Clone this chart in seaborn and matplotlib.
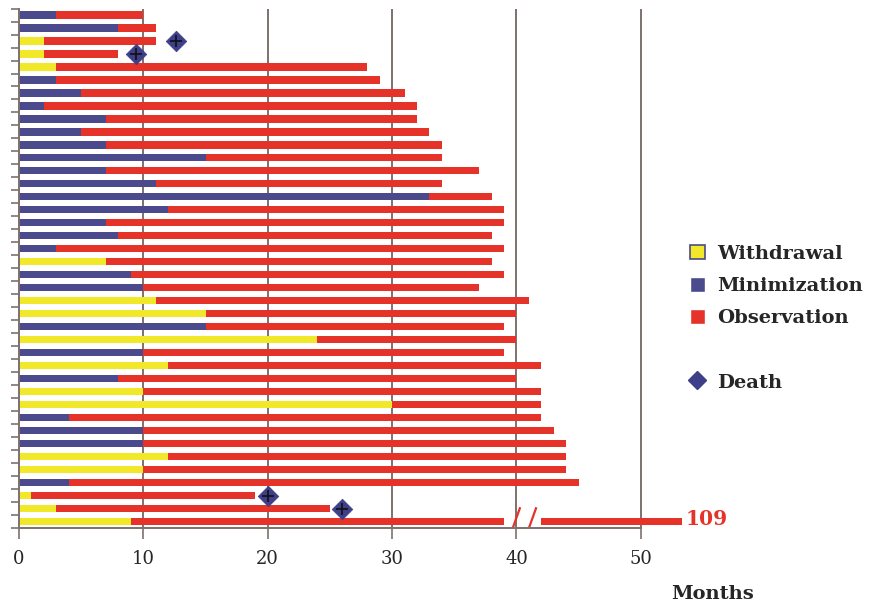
import numpy as np
import pandas as pd
import seaborn as sns
import matplotlib.pyplot as plt
from matplotlib.patches import Patch
from matplotlib.lines import Line2D

# one row per patient, top to bottom
first_kind = ['M', 'M', 'W', 'W', 'W', 'M', 'M', 'M', 'M', 'M',
              'M', 'M', 'M', 'M', 'M', 'M', 'M', 'M', 'M', 'W',
              'M', 'M', 'W', 'W', 'M', 'W', 'M', 'W', 'M', 'W',
              'W', 'M', 'M', 'M', 'W', 'W', 'M', 'W', 'W', 'W']
first_months = [3, 8, 2, 2, 3, 3, 5, 2, 7, 5,
                7, 15, 7, 11, 33, 12, 7, 8, 3, 7,
                9, 10, 11, 15, 15, 24, 10, 12, 8, 10,
                30, 4, 10, 10, 12, 10, 4, 1, 3, 9]
total_months = [10, 11, 11, 8, 28, 29, 31, 32, 32, 33,
                34, 34, 37, 34, 38, 39, 39, 38, 39, 38,
                39, 37, 41, 40, 39, 40, 39, 42, 40, 42,
                42, 42, 43, 44, 44, 44, 45, 19, 25, 109]
death_rows = [2, 3, 37, 38]
death_months = [12.6, 9.4, 20, 26]

# the long last bar is drawn with an axis break
break_from = 39
break_to = 42
break_end = 53.3

YELLOW = '#f2e82a'
BLUE = '#4b4a8c'
RED = '#e5332a'
NAVY = '#3d3f88'
GRID = '#7d716d'

df = pd.DataFrame({
    'row': np.arange(len(first_months)),
    'kind': first_kind,
    'first': first_months,
    'total': total_months,
})
df['shown'] = df['total'].where(df['total'] < 60, break_from)

sns.set_theme(style='white')
plt.rcParams['font.family'] = ['DejaVu Serif']

fig = plt.figure(figsize=(8.75, 6.04), dpi=100)
ax = fig.add_axes([0.0217, 0.1258, 0.796, 0.860])

sns.barplot(data=df, x='shown', y='row', orient='h', color=RED, width=0.55,
            saturation=1, errorbar=None, linewidth=0, ax=ax)
sns.barplot(data=df, x='first', y='row', hue='kind', orient='h', dodge=False,
            palette={'W': YELLOW, 'M': BLUE}, width=0.55, saturation=1,
            errorbar=None, linewidth=0, legend=False, ax=ax)

last = len(df) - 1
ax.barh(last, break_end - break_to, left=break_to, height=0.55, color=RED, lw=0)
for x0 in (39.7, 41.0):
    ax.plot([x0, x0 + 0.6], [last + 0.5, last - 1.1], color=RED, lw=1.6,
            solid_capstyle='butt')
ax.text(break_end + 0.3, last - 0.2, str(total_months[-1]), color=RED,
        fontsize=14.5, fontweight='bold', va='center', ha='left')

sns.scatterplot(x=death_months, y=death_rows, marker='D', s=110, color=NAVY,
                edgecolor=NAVY, linewidth=0.5, ax=ax, zorder=5)
ax.scatter(death_months, death_rows, marker='+', s=70, color='#111111',
           linewidths=1.2, zorder=6)

ax.set_xlim(0, 56)
ax.set_ylim(39.5, -0.5)
for xv in range(10, 60, 10):
    ax.axvline(xv, color=GRID, lw=1.4, zorder=0)

ax.set_xticks(range(0, 60, 10))
ax.set_yticks(np.arange(-0.5, 40, 1))
ax.set_yticklabels([])
ax.set_xlabel('')
ax.set_ylabel('')
ax.tick_params(axis='x', direction='out', length=8, width=1.2, color=GRID,
               labelsize=13, pad=8, bottom=True)
ax.tick_params(axis='y', direction='out', length=6, width=1.2, color=GRID,
               left=True)
for s in ('top', 'right'):
    ax.spines[s].set_visible(False)
for s in ('left', 'bottom'):
    ax.spines[s].set_color(GRID)
    ax.spines[s].set_linewidth(1.4)
ax.spines['bottom'].set_bounds(0, 50)

fig.text(0.814, 0.008, 'Months', fontsize=14, fontweight='bold', ha='center')

handles = [
    Patch(facecolor=YELLOW, edgecolor=BLUE, linewidth=1.2),
    Patch(facecolor=BLUE),
    Patch(facecolor=RED),
    Line2D([], [], linestyle='none'),
    Line2D([], [], marker='D', linestyle='none', markersize=9,
           markerfacecolor=NAVY, markeredgecolor=NAVY),
]
labels = ['Withdrawal', 'Minimization', 'Observation', ' ', 'Death']
fig.legend(handles, labels, loc='upper left', bbox_to_anchor=(0.768, 0.624),
           frameon=False, prop={'size': 14, 'weight': 'bold'},
           handlelength=0.8, handleheight=0.8, handletextpad=0.6,
           labelspacing=0.72)

fig.savefig('out.png', dpi=100)
